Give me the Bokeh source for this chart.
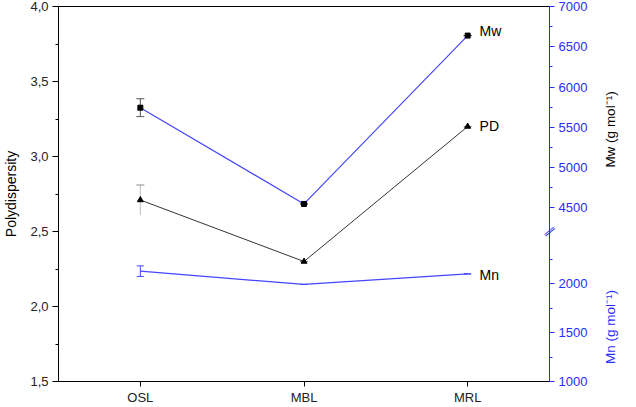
import math
from bokeh.plotting import figure
from bokeh.models import (Range1d, LinearAxis, FixedTicker, SingleIntervalTicker,
                          CustomJSTickFormatter, Whisker, ColumnDataSource, Label, TeeHead)
from bokeh.embed import file_html
from bokeh.resources import INLINE

# ---- data ----
samples = ["OSL", "MBL", "MRL"]
pd_values = [2.71, 2.30, 3.20]
pd_err = [0.10, 0.0, 0.0]
mw_values = [5744, 4549, 6639]
mw_err = [111, 0, 0]
mn_values = [2129, 1993, 2101]
mn_err = [54, 0, 0]

pd_minor_interval = 0.5
mw_ticks = [4500, 5000, 5500, 6000, 6500, 7000]
mw_minor = [4750, 5250, 5750, 6250, 6750]
mn_ticks = [1000, 1500, 2000]
mn_minor = [1250, 1750, 2250]

PD_START, PD_END = 1.5, 4.0
MW_START, MW_END = 2345, 7000
MN_START, MN_END = 1000, 4837
BREAK_PD = 2.5

FONT = "Liberation Sans"
BLUE = "#2a2aff"
LINE_BLUE = "#4646ff"


def mn_to_mw(v):
    return MW_START + (v - MN_START) / (MN_END - MN_START) * (MW_END - MW_START)


p = figure(width=636, height=407, x_range=samples,
           y_range=Range1d(PD_START, PD_END),
           output_backend="svg", toolbar_location=None,
           min_border_left=46, min_border_right=0, min_border_top=6,
           min_border_bottom=0)
p.extra_y_ranges = {"mw": Range1d(MW_START, MW_END), "mn": Range1d(MN_START, MN_END)}
p.xgrid.grid_line_color = None
p.ygrid.grid_line_color = None
p.outline_line_color = "black"
p.outline_line_width = 1
p.background_fill_color = "white"
p.border_fill_color = "white"

# left axis
ya = p.yaxis[0]
ya.ticker = SingleIntervalTicker(interval=pd_minor_interval, num_minor_ticks=2)
ya.formatter = CustomJSTickFormatter(code="return tick.toFixed(1).replace('.', ',');")
ya.axis_label = "Polydispersity"
ya.axis_label_text_font = FONT
ya.axis_label_text_font_size = "14px"
ya.axis_label_text_font_style = "normal"
ya.axis_label_text_color = "black"
ya.axis_label_standoff = 8
ya.major_label_text_font = FONT
ya.major_label_text_font_size = "13px"
ya.major_label_text_color = "#222222"
ya.major_tick_out = 6
ya.major_tick_in = 0
ya.minor_tick_out = 3
ya.minor_tick_in = 0
ya.major_label_standoff = 4
ya.axis_line_color = "black"

# bottom axis
xa = p.xaxis[0]
xa.major_label_text_font = FONT
xa.major_label_text_font_size = "13px"
xa.major_label_text_color = "#222222"
xa.major_tick_out = 5
xa.major_tick_in = 0
xa.major_label_standoff = 3
xa.axis_line_color = "black"

# right broken axis (Mw above break, Mn below)
right_ticks = mw_ticks + [mn_to_mw(v) for v in mn_ticks]
right_minor = mw_minor + [mn_to_mw(v) for v in mn_minor]
ra = LinearAxis(y_range_name="mw",
                ticker=FixedTicker(ticks=right_ticks, minor_ticks=right_minor),
                formatter=CustomJSTickFormatter(
                    args=dict(mw0=MW_START, mw1=MW_END, mn0=MN_START, mn1=MN_END, cut=4400),
                    code="""
                    if (tick >= cut) return tick.toFixed(0);
                    const v = mn0 + (tick - mw0) / (mw1 - mw0) * (mn1 - mn0);
                    return (Math.round(v / 50) * 50).toFixed(0);
                    """))
ra.axis_line_color = BLUE
ra.major_tick_line_color = BLUE
ra.minor_tick_line_color = BLUE
ra.major_label_text_color = BLUE
ra.major_label_text_font = FONT
ra.major_label_text_font_size = "13px"
ra.major_tick_out = 5
ra.major_tick_in = 0
ra.minor_tick_out = 3
ra.minor_tick_in = 0
ra.major_label_standoff = 4
p.add_layout(ra, "right")

# ---- series ----
p.line(samples, mw_values, y_range_name="mw", line_color=LINE_BLUE, line_width=1.2)
p.scatter(samples, mw_values, y_range_name="mw", marker="square", size=5,
          fill_color="black", line_color="black")

p.line(samples, pd_values, line_color="#333333", line_width=1)
p.scatter(samples, pd_values, marker="triangle", size=6,
          fill_color="black", line_color="black")

p.line(samples, mn_values, y_range_name="mn", line_color=LINE_BLUE, line_width=1.2)

# ---- error bars ----
mw_src = ColumnDataSource(dict(x=samples,
                               upper=[v + e for v, e in zip(mw_values, mw_err)],
                               lower=[v - e for v, e in zip(mw_values, mw_err)]))
p.add_layout(Whisker(base="x", upper="upper", lower="lower", source=mw_src,
                     y_range_name="mw", line_color="#555555", line_width=1,
                     upper_head=TeeHead(size=8, line_color="#555555"),
                     lower_head=TeeHead(size=8, line_color="#555555")))

pd_src = ColumnDataSource(dict(x=samples,
                               upper=[v + e for v, e in zip(pd_values, pd_err)],
                               lower=[v - e for v, e in zip(pd_values, pd_err)]))
p.add_layout(Whisker(base="x", upper="upper", lower="lower", source=pd_src,
                     line_color="#bbbbbb", line_width=1,
                     upper_head=TeeHead(size=8, line_color="#888888"),
                     lower_head=None))

mn_src = ColumnDataSource(dict(x=samples,
                               upper=[v + e for v, e in zip(mn_values, mn_err)],
                               lower=[v - e for v, e in zip(mn_values, mn_err)]))
p.add_layout(Whisker(base="x", upper="upper", lower="lower", source=mn_src,
                     y_range_name="mn", line_color=LINE_BLUE, line_width=1,
                     upper_head=TeeHead(size=7, line_color=LINE_BLUE),
                     lower_head=TeeHead(size=7, line_color=LINE_BLUE)))

# ---- series labels ----
for txt, yv in [("Mw", 3.84), ("PD", 3.206), ("Mn", 2.208)]:
    p.add_layout(Label(x=2.573, y=yv, text=txt, text_baseline="middle",
                       text_align="left", text_font=FONT, text_font_size="14px",
                       text_color="black"))

# right axis titles (placed in the right side panel so they are not clipped)
p.add_layout(Label(x=3.373, y=3.18,
                   text="Mw (g mol⁻¹)", angle=math.pi / 2,
                   text_align="center", text_baseline="middle", text_font=FONT,
                   text_font_size="13.5px", text_color="black"), "right")
p.add_layout(Label(x=3.373, y=1.864,
                   text="Mn (g mol⁻¹)", angle=math.pi / 2,
                   text_align="center", text_baseline="middle", text_font=FONT,
                   text_font_size="13.5px", text_color=BLUE), "right")

# axis break mark
p.add_layout(Label(x=3.0, y=BREAK_PD,
                   text="══", angle=0.7,
                   text_align="center", text_baseline="middle", text_font="DejaVu Sans",
                   text_font_size="10px", text_color=BLUE), "right")

open("out.html", "w").write(file_html(p, INLINE))
